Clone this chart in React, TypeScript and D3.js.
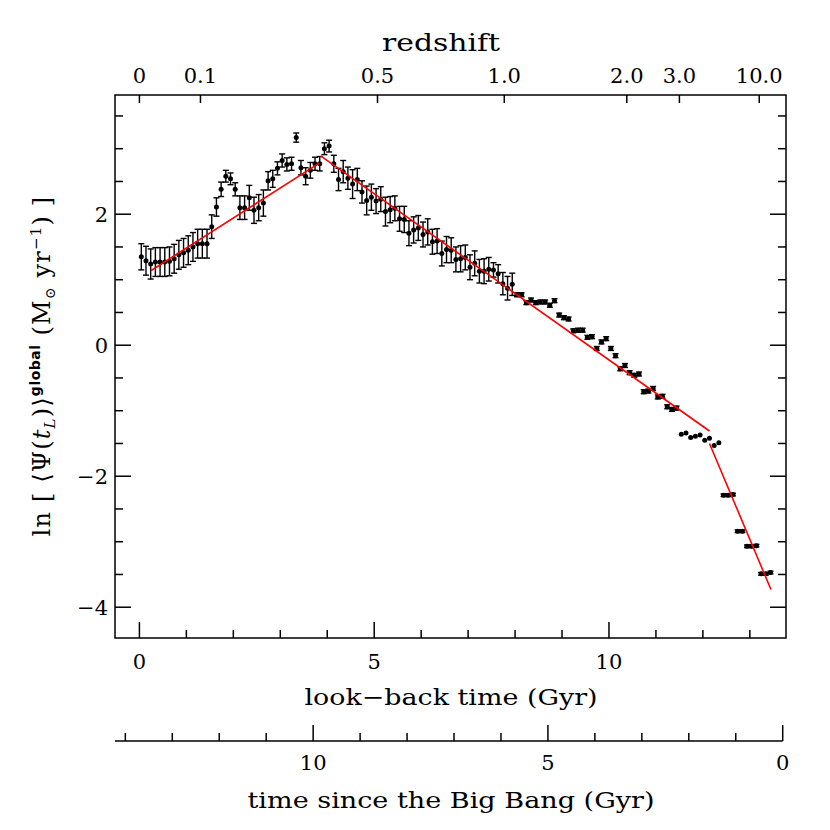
import React from "react";
import * as d3 from "d3";

// ---- data ----
const lookbackGyr = [
  0.04, 0.14, 0.24, 0.34, 0.44, 0.54, 0.64, 0.74, 0.84, 0.94,
  1.04, 1.14, 1.24, 1.34, 1.44, 1.54, 1.64, 1.74, 1.84, 1.94,
  2.04, 2.14, 2.24, 2.34, 2.44, 2.54, 2.64, 2.74, 2.84, 2.94,
  3.04, 3.14, 3.24, 3.34, 3.44, 3.54, 3.64, 3.74, 3.84, 3.94,
  4.04, 4.14, 4.24, 4.34, 4.44, 4.54, 4.64, 4.74, 4.84, 4.94,
  5.04, 5.14, 5.24, 5.34, 5.44, 5.54, 5.64, 5.74, 5.84, 5.94,
  6.04, 6.14, 6.24, 6.34, 6.44, 6.54, 6.64, 6.74, 6.84, 6.94,
  7.04, 7.14, 7.24, 7.34, 7.44, 7.54, 7.64, 7.74, 7.84, 7.94,
  8.04, 8.14, 8.24, 8.34, 8.44, 8.54, 8.64, 8.74, 8.84, 8.94,
  9.04, 9.14, 9.24, 9.34, 9.44, 9.54, 9.64, 9.74, 9.84, 9.94,
  10.04, 10.14, 10.24, 10.34, 10.44, 10.54, 10.64, 10.74, 10.84, 10.94,
  11.04, 11.14, 11.24, 11.34, 11.44, 11.54, 11.64, 11.74, 11.84, 11.94,
  12.04, 12.14, 12.24, 12.34, 12.44, 12.54, 12.64, 12.74, 12.84, 12.94,
  13.04, 13.14, 13.24, 13.34, 13.44,
];

const lnSfr = [
  1.35, 1.29, 1.24, 1.27, 1.27, 1.27, 1.28, 1.32, 1.38, 1.41,
  1.45, 1.5, 1.55, 1.55, 1.55, 1.81, 2.11, 2.38, 2.58, 2.54,
  2.38, 2.1, 2.1, 2.25, 2.06, 2.1, 2.17, 2.51, 2.54, 2.7,
  2.82, 2.76, 2.77, 3.17, 2.71, 2.58, 2.67, 2.77, 2.77, 3.0,
  3.04, 2.77, 2.53, 2.65, 2.55, 2.46, 2.53, 2.34, 2.21, 2.26,
  2.2, 2.23, 2.04, 2.07, 2.09, 1.93, 1.92, 1.71, 1.76, 1.79,
  1.69, 1.73, 1.58, 1.59, 1.4, 1.46, 1.45, 1.31, 1.32, 1.34,
  1.19, 1.25, 1.13, 1.13, 1.16, 1.15, 1.09, 0.94, 0.87, 0.93,
  0.77, 0.77, 0.65, 0.69, 0.65, 0.66, 0.66, 0.61, 0.68, 0.46,
  0.42, 0.4, 0.22, 0.23, 0.23, 0.12, 0.13, -0.05, 0.05, 0.1,
  -0.05, -0.16, -0.36, -0.31, -0.42, -0.46, -0.44, -0.71, -0.7, -0.66,
  -0.79, -0.78, -0.94, -0.98, -0.96, -1.36, -1.34, -1.41, -1.39, -1.37,
  -1.45, -1.42, -1.53, -1.49, -2.29, -2.29, -2.28, -2.84, -2.84, -3.07,
  -3.07, -3.06, -3.49, -3.49, -3.47,
];

const lnSfrErr = [
  0.2, 0.22, 0.23, 0.22, 0.22, 0.22, 0.22, 0.22, 0.22, 0.22,
  0.22, 0.22, 0.22, 0.22, 0.22, 0.18, 0.14, 0.11, 0.09, 0.09,
  0.1, 0.18, 0.18, 0.19, 0.2, 0.2, 0.2, 0.14, 0.13, 0.1,
  0.1, 0.1, 0.1, 0.07, 0.11, 0.13, 0.12, 0.1, 0.11, 0.09,
  0.09, 0.13, 0.17, 0.17, 0.17, 0.22, 0.17, 0.17, 0.22, 0.2,
  0.19, 0.19, 0.22, 0.2, 0.19, 0.19, 0.2, 0.19, 0.2, 0.19,
  0.19, 0.2, 0.19, 0.19, 0.19, 0.2, 0.19, 0.19, 0.2, 0.19,
  0.19, 0.19, 0.18, 0.19, 0.18, 0.11, 0.14, 0.17, 0.18, 0.17,
  0.03, 0.03, 0.03, 0.03, 0.03, 0.03, 0.03, 0.03, 0.03, 0.03,
  0.03, 0.03, 0.03, 0.03, 0.03, 0.03, 0.03, 0.03, 0.03, 0.03,
  0.03, 0.03, 0.03, 0.03, 0.03, 0.03, 0.03, 0.03, 0.03, 0.03,
  0.03, 0.03, 0.03, 0.03, 0.03, 0, 0, 0, 0, 0,
  0, 0, 0, 0, 0.02, 0.02, 0.02, 0.02, 0.02, 0.02,
  0.02, 0.02, 0.02, 0.02, 0.02,
];

// piecewise-linear fit (look-back time, ln SFR)
const fitSegment1 = [[0.25, 1.14], [3.83, 2.78]];
const fitSegment2 = [[3.86, 2.89], [12.14, -1.31]];
const fitSegment3 = [[12.14, -1.5], [13.45, -3.73]];

const lookbackMajorTicks = [0, 5, 10];
const lookbackMinorTicks = [1, 2, 3, 4, 6, 7, 8, 9, 11, 12, 13];
const yMajorTicks = [2, 0, -2, -4];
const yMinorTicks = [3.5, 3, 2.5, 1.5, 1, 0.5, -0.5, -1, -1.5, -2.5, -3, -3.5];

const redshiftLabels = ["0", "0.1", "0.5", "1.0", "2.0", "3.0", "10.0"];
const redshiftLookback = [0, 1.3, 5.07, 7.77, 10.38, 11.5, 13.2];

const universeAge = 13.7;
const bigBangMajorTicks = [10, 5, 0];
const bigBangMinorTicks = [14, 13, 12, 11, 9, 8, 7, 6, 4, 3, 2, 1];

// ---- layout ----
const W = 830;
const H = 830;
const L = 115, R = 786, T = 95, B = 638;
const AX2 = 741;
const FONT = "'DejaVu Serif', serif";

export default function App() {
  const x = d3.scaleLinear().domain([-0.52, 13.77]).range([L, R]);
  const y = d3.scaleLinear().domain([-4.47, 3.82]).range([B, T]);
  const line = d3
    .line<number[]>()
    .x((d) => x(d[0]))
    .y((d) => y(d[1]));

  const major = 16;
  const minor = 8;
  const sw = 1.5;

  return (
    <svg
      width={W}
      height={H}
      style={{ position: "absolute", left: 0, top: 0, background: "#fff" }}
      fontFamily={FONT}
    >
      <rect x={0} y={0} width={W} height={H} fill="#fff" />
      {/* frame */}
      <rect x={L} y={T} width={R - L} height={B - T} fill="none" stroke="#000" strokeWidth={sw} />

      {/* bottom look-back ticks */}
      {lookbackMajorTicks.map((t) => (
        <g key={"bM" + t}>
          <line x1={x(t)} x2={x(t)} y1={B} y2={B - major} stroke="#000" strokeWidth={sw} />
          <text x={x(t)} y={669} fontSize={21} textAnchor="middle">{t}</text>
        </g>
      ))}
      {lookbackMinorTicks.map((t) => (
        <line key={"bm" + t} x1={x(t)} x2={x(t)} y1={B} y2={B - minor} stroke="#000" strokeWidth={sw} />
      ))}
      <text x={451} y={705} fontSize={23} textAnchor="middle" textLength={293} lengthAdjust="spacingAndGlyphs">
        look−back time (Gyr)
      </text>

      {/* redshift top axis */}
      {redshiftLookback.map((t, i) => (
        <g key={"z" + i}>
          <line x1={x(t)} x2={x(t)} y1={T} y2={T + minor} stroke="#000" strokeWidth={sw} />
          <text x={x(t)} y={83} fontSize={21} textAnchor="middle">{redshiftLabels[i]}</text>
        </g>
      ))}
      <text x={441} y={51} fontSize={24} textAnchor="middle" textLength={118} lengthAdjust="spacingAndGlyphs">
        redshift
      </text>

      {/* left + right y ticks */}
      {yMajorTicks.map((v) => (
        <g key={"yM" + v}>
          <line x1={L} x2={L + major} y1={y(v)} y2={y(v)} stroke="#000" strokeWidth={sw} />
          <line x1={R} x2={R - major} y1={y(v)} y2={y(v)} stroke="#000" strokeWidth={sw} />
          <text x={108} y={y(v) + 7.5} fontSize={21} textAnchor="end">
            {v < 0 ? "−" + Math.abs(v) : String(v)}
          </text>
        </g>
      ))}
      {yMinorTicks.map((v) => (
        <g key={"ym" + v}>
          <line x1={L} x2={L + minor} y1={y(v)} y2={y(v)} stroke="#000" strokeWidth={sw} />
          <line x1={R} x2={R - minor} y1={y(v)} y2={y(v)} stroke="#000" strokeWidth={sw} />
        </g>
      ))}

      {/* y label */}
      <text
        transform={`translate(50,366) rotate(-90)`}
        fontSize={24}
        letterSpacing={1.2}
        textAnchor="middle"
      >
        <tspan>ln [  ⟨Ψ(</tspan>
        <tspan fontStyle="italic">t</tspan>
        <tspan fontStyle="italic" fontSize={15} dy={5}>L</tspan>
        <tspan dy={-5}>)⟩</tspan>
        <tspan fontFamily="'DejaVu Sans', sans-serif" fontWeight="bold" fontSize={14} letterSpacing={0.5} dy={-10}>global</tspan>
        <tspan dy={10}>{"    (M"}</tspan>
        <tspan fontSize={14} dy={5}>⊙</tspan>
        <tspan dy={-5}>{"  yr"}</tspan>
        <tspan fontSize={15} dy={-9}>−1</tspan>
        <tspan dy={9}>)  ]</tspan>
      </text>

      {/* error bars */}
      {lookbackGyr.map((t, i) => {
        const e = lnSfrErr[i];
        if (!e) return null;
        const cx = x(t);
        const y1 = y(lnSfr[i] + e);
        const y2 = y(lnSfr[i] - e);
        return (
          <g key={"e" + i} stroke="#000" strokeWidth={1.4}>
            <line x1={cx} x2={cx} y1={y1} y2={y2} />
            <line x1={cx - 3} x2={cx + 3} y1={y1} y2={y1} />
            <line x1={cx - 3} x2={cx + 3} y1={y2} y2={y2} />
          </g>
        );
      })}
      {/* points */}
      {lookbackGyr.map((t, i) => (
        <circle key={"p" + i} cx={x(t)} cy={y(lnSfr[i])} r={2.5} fill="#000" />
      ))}

      {/* fit */}
      {[fitSegment1, fitSegment2, fitSegment3].map((seg, i) => (
        <path key={"f" + i} d={line(seg) || ""} fill="none" stroke="#ff0000" strokeWidth={1.6} />
      ))}

      {/* big bang axis */}
      <line x1={L} x2={x(universeAge)} y1={AX2} y2={AX2} stroke="#000" strokeWidth={sw} />
      {bigBangMajorTicks.map((a) => (
        <g key={"gM" + a}>
          <line x1={x(universeAge - a)} x2={x(universeAge - a)} y1={AX2} y2={AX2 - major} stroke="#000" strokeWidth={sw} />
          <text x={x(universeAge - a)} y={770} fontSize={21} textAnchor="middle">{a}</text>
        </g>
      ))}
      {bigBangMinorTicks.map((a) => (
        <line key={"gm" + a} x1={x(universeAge - a)} x2={x(universeAge - a)} y1={AX2} y2={AX2 - minor} stroke="#000" strokeWidth={sw} />
      ))}
      <text x={451} y={808} fontSize={23} textAnchor="middle" textLength={407} lengthAdjust="spacingAndGlyphs">
        time since the Big Bang (Gyr)
      </text>
    </svg>
  );
}
